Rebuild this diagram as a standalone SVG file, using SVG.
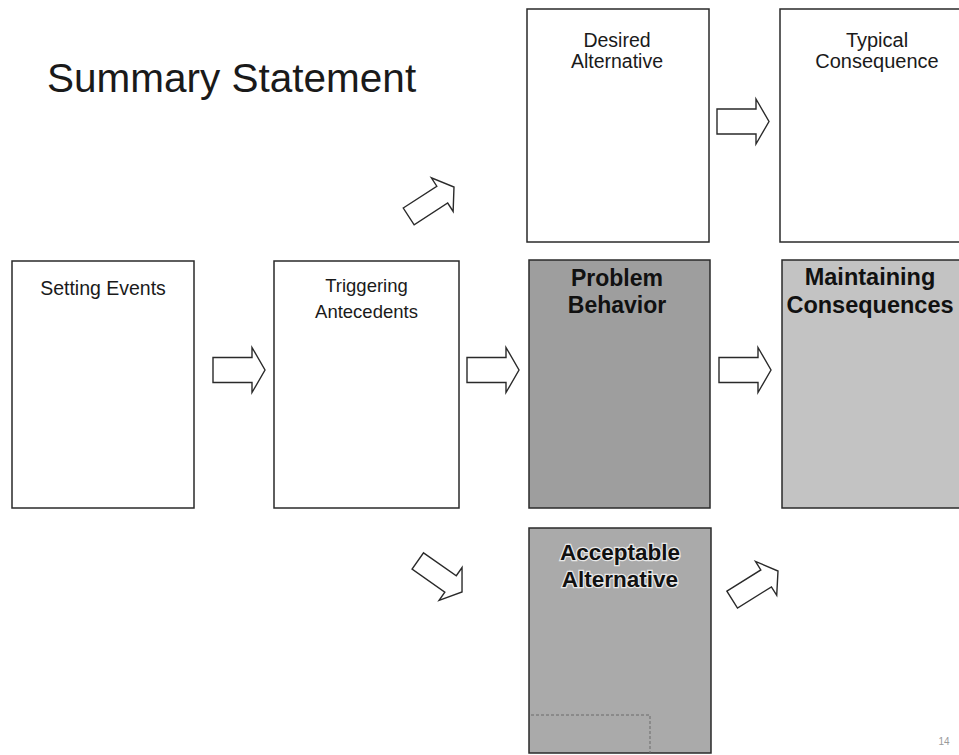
<svg xmlns="http://www.w3.org/2000/svg" width="959" height="755" viewBox="0 0 959 755">
<style>
.box{stroke:#2a2a2a;stroke-width:1.5}
.w{fill:#ffffff}
.g1{fill:#9e9e9e}
.g2{fill:#c3c3c3}
.g3{fill:#aaaaaa}
.t{font-family:"Liberation Sans",Arial,sans-serif;fill:#1a1a1a;text-anchor:middle}
.b{font-weight:bold;fill:#111111}
.arr{fill:#ffffff;stroke:#2a2a2a;stroke-width:1.4;stroke-linejoin:miter}
</style>
<defs>
<path id="ah" d="M0,-12.5 H39 V-22.5 L52,0 L39,22.5 V12.5 H0 Z"/>
<path id="ad" d="M0,-10 H40 V-20 L54,0 L40,20 V10 H0 Z"/>
</defs>
<rect width="959" height="755" fill="#ffffff"/>
<text x="47" y="92" font-family="Liberation Sans,Arial,sans-serif" font-size="40.5" fill="#1a1a1a">Summary Statement</text>

<g id="setting-events">
<rect class="box w" x="12" y="261" width="182" height="247"/>
<text class="t" x="103" y="295" font-size="19.5">Setting Events</text>
</g>
<g id="triggering-antecedents">
<rect class="box w" x="274" y="261" width="185" height="247"/>
<text class="t" x="366.5" y="292" font-size="18.5">Triggering</text>
<text class="t" x="366.5" y="318" font-size="18.5">Antecedents</text>
</g>
<g id="desired-alternative">
<rect class="box w" x="527" y="9" width="182" height="233"/>
<text class="t" x="617" y="47" font-size="19.5">Desired</text>
<text class="t" x="617" y="68" font-size="19.5">Alternative</text>
</g>
<g id="typical-consequence">
<rect class="box w" x="780" y="9" width="190" height="233"/>
<text class="t" x="877" y="47" font-size="20">Typical</text>
<text class="t" x="877" y="68" font-size="20">Consequence</text>
</g>
<g id="problem-behavior">
<rect class="box g1" x="529" y="260" width="181" height="248"/>
<text class="t b" x="617" y="286" font-size="23">Problem</text>
<text class="t b" x="617" y="313" font-size="23">Behavior</text>
</g>
<g id="maintaining-consequences">
<rect class="box g2" x="782" y="260" width="190" height="248"/>
<text class="t b" x="870" y="285" font-size="23.5">Maintaining</text>
<text class="t b" x="870" y="313" font-size="23.5">Consequences</text>
</g>
<g id="acceptable-alternative">
<rect class="box g3" x="529" y="528" width="182" height="225"/>
<polyline points="531,715 650,715 650,753" fill="none" stroke="#6a6a6a" stroke-width="1" stroke-dasharray="3,2"/>
<text class="t b" x="620" y="560" font-size="22.5" stroke="#e8e8e8" stroke-width="2.5" paint-order="stroke">Acceptable</text>
<text class="t b" x="620" y="587" font-size="22.5" stroke="#e8e8e8" stroke-width="2.5" paint-order="stroke">Alternative</text>
</g>

<g id="connectors">
<use href="#ah" class="arr" transform="translate(213,370)"/>
<use href="#ah" class="arr" transform="translate(467,370)"/>
<use href="#ah" class="arr" transform="translate(719,370)"/>
<use href="#ah" class="arr" transform="translate(717,121.5)"/>
<use href="#ad" class="arr" transform="translate(408.7,216.4) rotate(-33)"/>
<use href="#ad" class="arr" transform="translate(417.8,561) rotate(35)"/>
<use href="#ad" class="arr" transform="translate(732.2,599.6) rotate(-32)"/>
</g>

<text x="944" y="745" font-family="Liberation Sans,Arial,sans-serif" font-size="10" fill="#9a9a9a" text-anchor="middle">14</text>
</svg>
